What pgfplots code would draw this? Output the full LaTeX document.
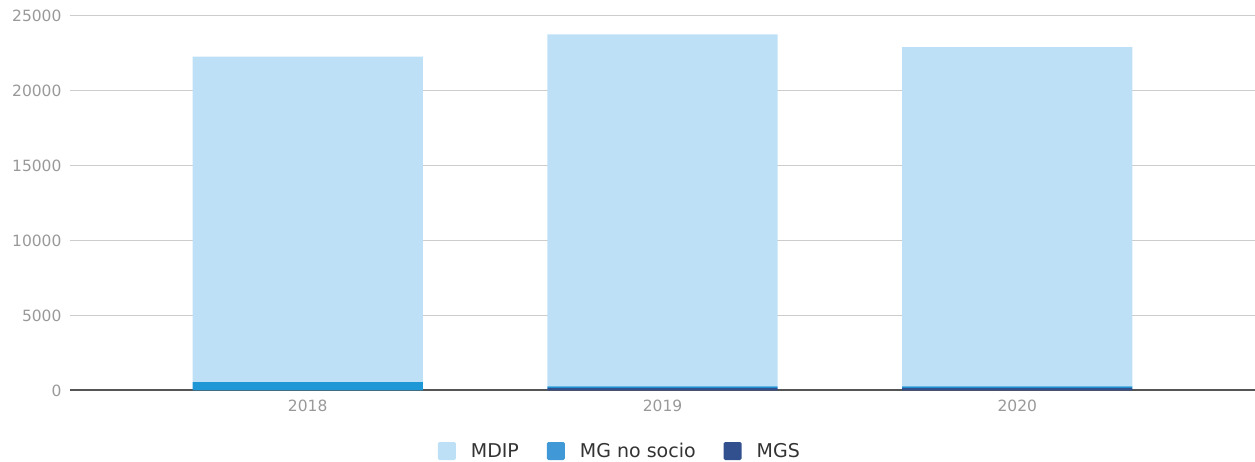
\documentclass[border=0pt]{standalone}
\usepackage{pgfplots}
\pgfplotsset{compat=1.18}
\usepackage{fontspec}
\setmainfont{DejaVu Sans}
\definecolor{cMDIP}{HTML}{BEE0F6}
\definecolor{cMGN}{HTML}{1E97D6}
\definecolor{cMGNleg}{HTML}{4198D6}
\definecolor{cMGS}{HTML}{32508E}
\definecolor{tickgray}{HTML}{999999}
\definecolor{gridgray}{HTML}{CCCCCC}
\definecolor{axisgray}{HTML}{555555}
\definecolor{legtext}{HTML}{333333}
\begin{document}
\begin{tikzpicture}
\begin{axis}[
  scale only axis,
  width=1185pt, height=374.5pt,
  xmin=-0.67, xmax=2.67,
  ymin=0, ymax=25000,
  ybar stacked,
  bar width=0.649,
  xtick={0,1,2},
  xticklabels={2018,2019,2020},
  ytick={0,5000,10000,15000,20000,25000},
  /pgf/number format/assume math mode=true,
  scaled y ticks=false,
  yticklabel style={/pgf/number format/fixed,/pgf/number format/1000 sep={}},
  tick label style={font=\fontsize{15.5}{18}\selectfont, text=tickgray},
  xticklabel style={yshift=-6pt},
  yticklabel style={xshift=-5pt},
  major tick length=0pt,
  axis line style={draw=none},
  ymajorgrids,
  grid style={gridgray, line width=1pt},
  legend style={at={(0.464,-0.1616)}, anchor=center, draw=none, fill=none,
    font=\fontsize{19}{22}\selectfont, text=legtext, legend columns=3,
    /tikz/every even column/.append style={column sep=26pt},
    /tikz/every odd column/.append style={column sep=13pt}},
  legend image code/.code={\path[#1,draw=none,rounded corners=1.5pt] (0pt,-9pt) rectangle (18pt,9pt);},
  legend cell align=left,
  clip=false,
]
\addplot[fill=cMGS, draw=none, forget plot] coordinates {(0,0) (1,180) (2,180)};
\addplot[fill=cMGN, draw=none, forget plot] coordinates {(0,555) (1,100) (2,100)};
\addplot[fill=cMDIP, draw=none, forget plot] coordinates {(0,21725) (1,23497) (2,22649)};
\addlegendimage{fill=cMDIP}
\addlegendentry{MDIP}
\addlegendimage{fill=cMGNleg}
\addlegendentry{MG no socio}
\addlegendimage{fill=cMGS}
\addlegendentry{MGS}
\draw[axisgray, line width=2pt] (rel axis cs:0,0) -- (rel axis cs:1,0);
\coordinate (SW) at (rel axis cs:0,0);
\coordinate (NE) at (rel axis cs:1,1);
\end{axis}
\pgfresetboundingbox
\path ([xshift=-70pt,yshift=-71.5pt]SW) rectangle ([yshift=16pt]NE);
\end{tikzpicture}
\end{document}
